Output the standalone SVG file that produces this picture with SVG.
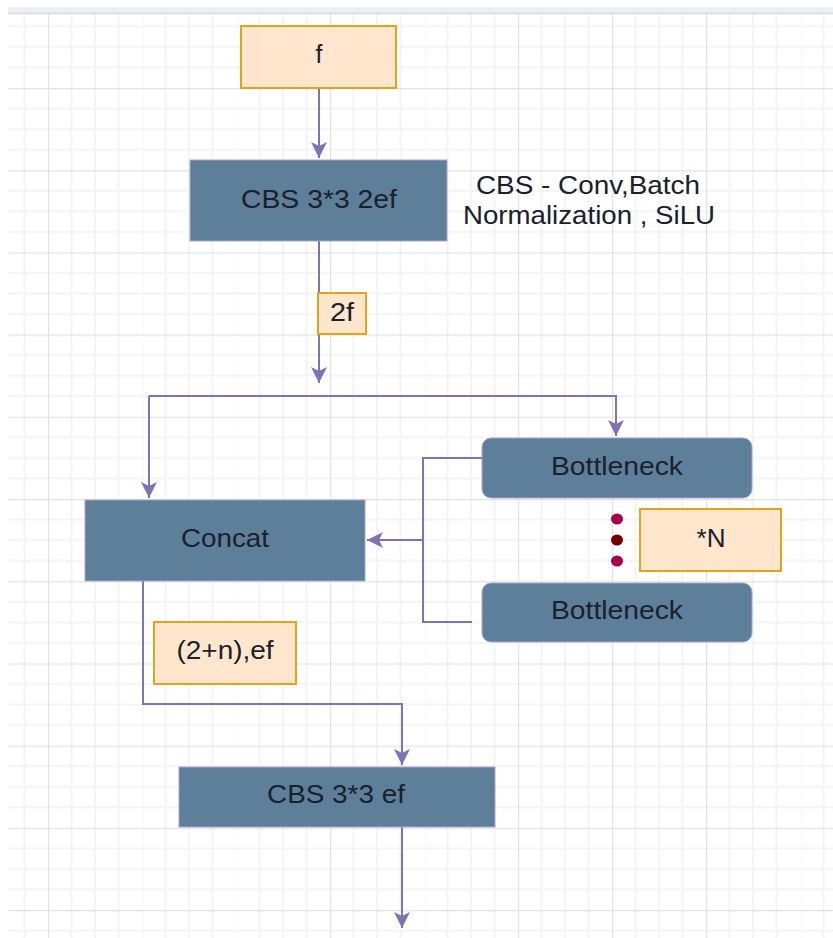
<svg xmlns="http://www.w3.org/2000/svg" width="833" height="938" viewBox="0 0 833 938">
  <style>
    .bg { fill: #ffffff; }
    .topbar { fill: #eceef1; }
    .proc { fill: #5e7f9a; stroke: #aaa4d2; stroke-width: 1; }
    .note { fill: #ffe6cc; stroke: #e0a51c; stroke-width: 2; }
    .wire { fill: none; stroke: #7f73b6; stroke-width: 2; }
    text { font-family: "Liberation Sans", Arial, sans-serif; font-size: 25px; fill: #18212c; text-anchor: middle; }
  </style>
  <defs>
    <pattern id="grid" patternUnits="userSpaceOnUse" x="48" y="88" width="94" height="82.2">
      <rect width="94" height="82.2" fill="#ffffff"/>
      <path d="M23.5 0V82.2M47 0V82.2M70.5 0V82.2M0 20.55H94M0 41.1H94M0 61.65H94" stroke="#f4f4f5" stroke-width="2"/>
      <path d="M0 0V82.2M0 0H94" stroke="#e3e3e5" stroke-width="2.4"/>
    </pattern>
    <marker id="arrow" markerUnits="userSpaceOnUse" viewBox="0 -9 17 18" refX="16" refY="0" markerWidth="17" markerHeight="18" orient="auto">
      <path d="M0 -8 L16 0 L0 8 L4 0 Z" fill="#7f73b6"/>
    </marker>
  </defs>

  <!-- canvas and grid -->
  <rect class="bg" x="0" y="0" width="833" height="938"/>
  <rect class="topbar" x="8" y="7" width="825" height="7"/>
  <rect x="8" y="14" width="825" height="924" fill="url(#grid)"/>
  <line x1="8" y1="13.5" x2="833" y2="13.5" stroke="#d9dadd" stroke-width="1.5"/>

  <!-- connectors -->
  <g id="connectors">
    <path class="wire" d="M319 88V158" marker-end="url(#arrow)"/>
    <path class="wire" d="M319 241V383" marker-end="url(#arrow)"/>
    <path class="wire" d="M149 396H616V436" marker-end="url(#arrow)"/>
    <path class="wire" d="M149 396V498" marker-end="url(#arrow)"/>
    <path class="wire" d="M482 458H423V622H472"/>
    <path class="wire" d="M423 540H367" marker-end="url(#arrow)"/>
    <path class="wire" d="M143 581V704H402V765" marker-end="url(#arrow)"/>
    <path class="wire" d="M402 827V928" marker-end="url(#arrow)"/>
  </g>

  <!-- nodes -->
  <g id="input-f">
    <rect class="note" x="241" y="26" width="155" height="62"/>
    <text x="319" y="63">f</text>
  </g>

  <g id="cbs-2ef">
    <rect class="proc" x="190" y="160" width="257" height="81"/>
    <text x="319" y="208" textLength="156" lengthAdjust="spacingAndGlyphs">CBS 3*3 2ef</text>
  </g>

  <g id="cbs-legend">
    <text x="588" y="194" textLength="224" lengthAdjust="spacingAndGlyphs">CBS - Conv,Batch</text>
    <text x="589" y="224" textLength="252" lengthAdjust="spacingAndGlyphs">Normalization , SiLU</text>
  </g>

  <g id="label-2f">
    <rect class="note" x="318" y="293" width="48" height="41"/>
    <text x="342" y="321" textLength="24" lengthAdjust="spacingAndGlyphs">2f</text>
  </g>

  <g id="bottleneck-1">
    <rect class="proc" x="482" y="438" width="270" height="60" rx="9"/>
    <text x="617" y="475" textLength="132" lengthAdjust="spacingAndGlyphs">Bottleneck</text>
  </g>

  <g id="repeat-dots">
    <ellipse cx="617" cy="519" rx="6" ry="5.5" fill="#a6004a"/>
    <ellipse cx="617" cy="540" rx="6" ry="5.5" fill="#700000"/>
    <ellipse cx="617" cy="561" rx="6" ry="5.5" fill="#a6004a"/>
  </g>

  <g id="label-n">
    <rect class="note" x="640" y="509" width="141" height="62"/>
    <text x="711" y="547" textLength="29" lengthAdjust="spacingAndGlyphs">*N</text>
  </g>

  <g id="bottleneck-2">
    <rect class="proc" x="482" y="583" width="270" height="59" rx="9"/>
    <text x="617" y="619" textLength="132" lengthAdjust="spacingAndGlyphs">Bottleneck</text>
  </g>

  <g id="concat">
    <rect class="proc" x="85" y="500" width="280" height="81"/>
    <text x="225" y="547" textLength="88" lengthAdjust="spacingAndGlyphs">Concat</text>
  </g>

  <g id="label-2n-ef">
    <rect class="note" x="154" y="622" width="142" height="62"/>
    <text x="225" y="659" textLength="97" lengthAdjust="spacingAndGlyphs">(2+n),ef</text>
  </g>

  <g id="cbs-ef">
    <rect class="proc" x="179" y="767" width="316" height="60"/>
    <text x="336" y="803" textLength="138" lengthAdjust="spacingAndGlyphs">CBS 3*3 ef</text>
  </g>
</svg>
